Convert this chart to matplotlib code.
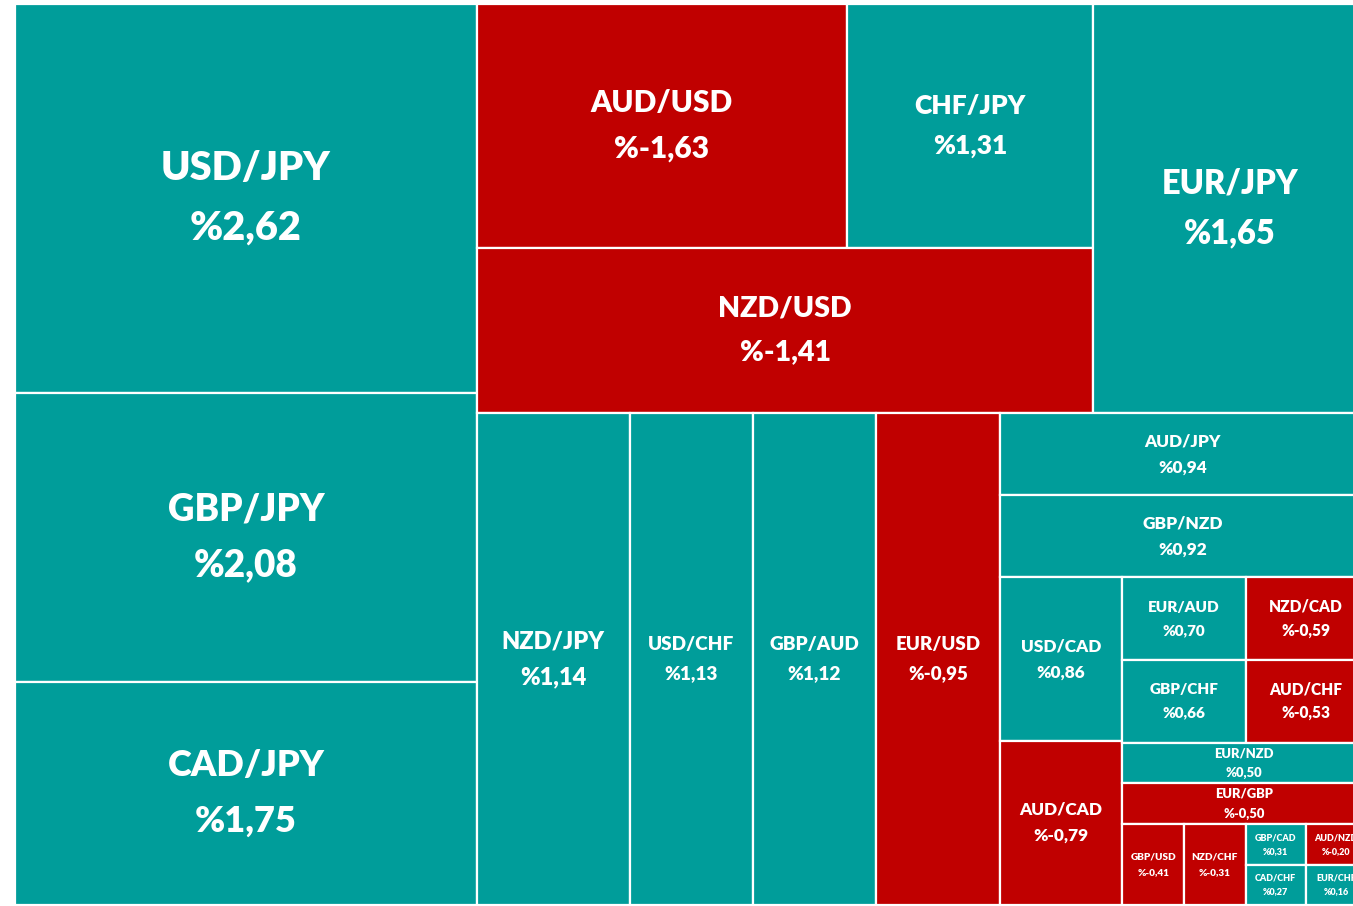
import matplotlib
matplotlib.use("Agg")
import matplotlib.pyplot as plt
from matplotlib.patches import Rectangle

# Döviz çiftleri, günlük değişim (%) ve hücre ağırlıkları (alanlardan okunmuş)
pairs = ["USD/JPY", "GBP/JPY", "CAD/JPY", "EUR/JPY", "AUD/USD", "NZD/USD", "CHF/JPY",
         "NZD/JPY", "USD/CHF", "GBP/AUD", "EUR/USD", "AUD/JPY", "GBP/NZD", "USD/CAD",
         "AUD/CAD", "EUR/AUD", "GBP/CHF", "NZD/CAD", "AUD/CHF", "EUR/NZD", "EUR/GBP",
         "GBP/USD", "NZD/CHF", "GBP/CAD", "CAD/CHF", "AUD/NZD", "EUR/CHF"]
changes = [2.62, 2.08, 1.75, 1.65, -1.63, -1.41, 1.31,
           1.14, 1.13, 1.12, -0.95, 0.94, 0.92, 0.86,
           -0.79, 0.70, 0.66, -0.59, -0.53, 0.50, -0.50,
           -0.41, -0.31, 0.31, 0.27, -0.20, 0.16]
weights = [74, 55, 42.5, 46, 37.2, 42, 24.8,
           31, 25, 25, 25, 12.4, 12.4, 8.3,
           8.3, 4.2, 4.2, 4.1, 4.1, 4.1, 4.1,
           2.05, 2.05, 1, 1, 1, 1]

# Yazı boyutları (pt)
font_sizes = {
    "USD/JPY": 28.5, "GBP/JPY": 26.5, "CAD/JPY": 26, "EUR/JPY": 23.5,
    "AUD/USD": 21.5, "NZD/USD": 20.5, "CHF/JPY": 19, "NZD/JPY": 17,
    "USD/CHF": 13.7, "GBP/AUD": 13.7, "EUR/USD": 13.5,
    "AUD/JPY": 12.4, "GBP/NZD": 12.4, "USD/CAD": 12.4, "AUD/CAD": 12.4,
    "EUR/AUD": 11, "GBP/CHF": 11, "NZD/CAD": 11.2, "AUD/CHF": 11.2,
    "EUR/NZD": 9.4, "EUR/GBP": 9.4, "GBP/USD": 7.2, "NZD/CHF": 7.2,
    "GBP/CAD": 6.5, "CAD/CHF": 6.5, "AUD/NZD": 6.5, "EUR/CHF": 6.5,
}

TEAL = "#009D9A"
RED = "#C00000"

weight_of = dict(zip(pairs, weights))
change_of = dict(zip(pairs, changes))


def H(*children):
    return ("h", children)


def V(*children):
    return ("v", children)


# Excel treemap yerleşim hiyerarşisi
tree = H(
    V("USD/JPY", "GBP/JPY", "CAD/JPY"),
    V(
        H(V(H("AUD/USD", "CHF/JPY"), "NZD/USD"), "EUR/JPY"),
        H("NZD/JPY", "USD/CHF", "GBP/AUD", "EUR/USD",
          V("AUD/JPY", "GBP/NZD",
            H(V("USD/CAD", "AUD/CAD"),
              V(H(V("EUR/AUD", "GBP/CHF"), V("NZD/CAD", "AUD/CHF")),
                "EUR/NZD", "EUR/GBP",
                H("GBP/USD", "NZD/CHF", V("GBP/CAD", "CAD/CHF"), V("AUD/NZD", "EUR/CHF")))))),
    ),
)


def total(node):
    if isinstance(node, str):
        return weight_of[node]
    return sum(total(c) for c in node[1])


def layout(node, x, y, w, h, out):
    if isinstance(node, str):
        out.append((node, x, y, w, h))
        return
    direction, children = node
    s = total(node)
    pos = 0.0
    for c in children:
        f = total(c) / s
        if direction == "h":
            layout(c, x + pos * w, y, f * w, h, out)
        else:
            layout(c, x, y + pos * h, w, f * h, out)
        pos += f


cells = []
layout(tree, 15, 4, 1351, 901, cells)

fig = plt.figure(figsize=(13.53, 9.06), dpi=100, facecolor="white")
ax = fig.add_axes([0, 0, 1, 1])
ax.set_xlim(0, 1353)
ax.set_ylim(906, 0)
ax.axis("off")

for name, x, y, w, h in cells:
    v = change_of[name]
    ax.add_patch(Rectangle((x, y), w, h, facecolor=RED if v < 0 else TEAL,
                           edgecolor="white", linewidth=1.6))
    fs = font_sizes[name]
    cx, cy = x + w / 2, y + h / 2
    off = 0.76 * fs
    ax.annotate(name, (cx, cy), xytext=(0, off), textcoords="offset points",
                ha="center", va="center", color="white", fontsize=fs,
                fontfamily="Lato", fontweight="heavy")
    ax.annotate("%" + f"{v:.2f}".replace(".", ","), (cx, cy), xytext=(0, -off),
                textcoords="offset points", ha="center", va="center",
                color="white", fontsize=fs, fontfamily="Lato", fontweight="heavy")

fig.savefig("out.png", dpi=100, facecolor="white")
